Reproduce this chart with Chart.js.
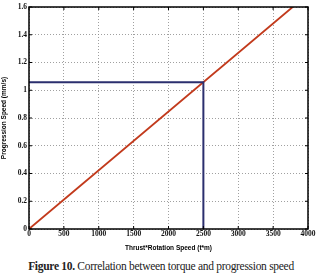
<!DOCTYPE html>
<html><head><meta charset="utf-8">
<script src="https://cdn.jsdelivr.net/npm/chart.js@4/dist/chart.umd.min.js"></script>
<style>
html,body{margin:0;padding:0;background:#fff;}
#wrap{position:relative;width:322px;height:252px;}
#cap{position:absolute;left:0;top:260px;width:322px;text-align:center;font-family:"Liberation Serif","DejaVu Serif",serif;font-size:11.5px;color:#222;letter-spacing:-0.3px;}
</style></head>
<body>
<div id="wrap"><canvas id="c" width="322" height="252"></canvas></div>
<div id="cap"><b>Figure 10.</b> Correlation between torque and progression speed</div>
<script>
const xTicks = [0,500,1000,1500,2000,2500,3000,3500,4000];
const yTicks = [0,0.2,0.4,0.6,0.8,1,1.2,1.4,1.6];
const fitX = [0, 3780];
const fitY = [0, 1.6];
const guideX = [0, 2500, 2500];
const guideY = [1.057, 1.057, 0];

const boxPlugin = {
  id:'box',
  afterDraw(chart){
    const a = chart.chartArea, ctx = chart.ctx;
    ctx.save();
    ctx.strokeStyle='#000'; ctx.lineWidth=1.5;
    ctx.strokeRect(a.left, a.top, a.right-a.left, a.bottom-a.top);
    ctx.lineWidth=1;
    const xs = chart.scales.x, ys = chart.scales.y;
    xTicks.forEach(v=>{const p=xs.getPixelForValue(v);
      ctx.beginPath();ctx.moveTo(p,a.bottom);ctx.lineTo(p,a.bottom-3);ctx.moveTo(p,a.top);ctx.lineTo(p,a.top+3);ctx.stroke();});
    yTicks.forEach(v=>{const p=ys.getPixelForValue(v);
      ctx.beginPath();ctx.moveTo(a.left,p);ctx.lineTo(a.left+3,p);ctx.moveTo(a.right,p);ctx.lineTo(a.right-3,p);ctx.stroke();});
    ctx.restore();
  }
};

new Chart(document.getElementById('c'), {
  type:'scatter',
  data:{datasets:[
    {data: guideX.map((x,i)=>({x, y:guideY[i]})), showLine:true, borderColor:'#2b2f6e', borderWidth:2, pointRadius:0, fill:false},
    {data: fitX.map((x,i)=>({x, y:fitY[i]})), showLine:true, borderColor:'#c23a1c', borderWidth:1.8, pointRadius:0, fill:false}
  ]},
  options:{
    responsive:false, animation:false,
    layout:{padding:{top:7,right:14,left:0,bottom:0}},
    plugins:{legend:{display:false}, tooltip:{enabled:false}},
    scales:{
      x:{type:'linear', min:0, max:4000,
        afterBuildTicks(s){s.ticks = xTicks.map(v=>({value:v}));},
        ticks:{color:'#111', font:{family:'Liberation Serif', size:7.5, weight:'bold'}, padding:1, maxRotation:0, autoSkip:false, callback:v=>String(v)},
        grid:{color:'#888', lineWidth:0.8, drawTicks:false},
        border:{display:false, dash:[1,2]},
        title:{display:true, text:'Thrust*Rotation Speed (t*m)', color:'#000', font:{family:'Liberation Sans', size:6.5, weight:'bold'}, padding:{top:2,bottom:0}},
        afterFit(s){s.height = 23;}
      },
      y:{type:'linear', min:0, max:1.6,
        afterBuildTicks(s){s.ticks = yTicks.map(v=>({value:v}));},
        ticks:{color:'#111', font:{family:'Liberation Serif', size:7.5, weight:'bold'}, padding:2, autoSkip:false, callback:v=>String(+v.toFixed(1))},
        grid:{color:'#888', lineWidth:0.8, drawTicks:false},
        border:{display:false, dash:[1,2]},
        title:{display:true, text:'Progression Speed (mm/s)', color:'#000', font:{family:'Liberation Sans', size:6.5, weight:'bold'}, padding:{top:0,bottom:3}},
        afterFit(s){s.width = 29;}
      }
    }
  },
  plugins:[boxPlugin]
});
</script>
</body></html>
